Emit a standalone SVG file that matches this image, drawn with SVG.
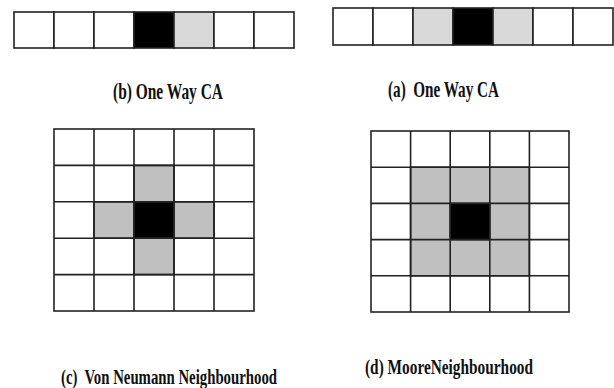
<svg xmlns="http://www.w3.org/2000/svg" width="614" height="388" viewBox="0 0 614 388">
<style>
.c{fill:#fff;stroke:#222;stroke-width:1.6}
.k{fill:#000;stroke:#222;stroke-width:1.6}
.g1{fill:#d9d9d9;stroke:#222;stroke-width:1.6}
.g2{fill:#c0c0c0;stroke:#222;stroke-width:1.6}
.t{font-family:"Liberation Serif",serif;font-weight:bold;fill:#111;white-space:pre}
</style>
<rect width="614" height="388" fill="#fff"/>
<g id="strip-b">
<rect class="c" x="14" y="12" width="40" height="36"/>
<rect class="c" x="54" y="12" width="40" height="36"/>
<rect class="c" x="94" y="12" width="40" height="36"/>
<rect class="k" x="134" y="12" width="40" height="36"/>
<rect class="g1" x="174" y="12" width="40" height="36"/>
<rect class="c" x="214" y="12" width="40" height="36"/>
<rect class="c" x="254" y="12" width="40" height="36"/>
</g>
<g id="strip-a">
<rect class="c" x="333" y="8" width="40" height="37"/>
<rect class="c" x="373" y="8" width="40" height="37"/>
<rect class="g1" x="413" y="8" width="40" height="37"/>
<rect class="k" x="453" y="8" width="40" height="37"/>
<rect class="g1" x="493" y="8" width="40" height="37"/>
<rect class="c" x="533" y="8" width="40" height="37"/>
<rect class="c" x="573" y="8" width="40" height="37"/>
</g>
<g id="grid-c">
<rect class="c" x="54" y="129" width="200" height="182"/>
<rect class="g2" x="134" y="165.4" width="40" height="36.4"/>
<rect class="g2" x="94" y="201.8" width="40" height="36.4"/>
<rect class="k" x="134" y="201.8" width="40" height="36.4"/>
<rect class="g2" x="174" y="201.8" width="40" height="36.4"/>
<rect class="g2" x="134" y="238.2" width="40" height="36.4"/>
<path d="M94 129V311M134 129V311M174 129V311M214 129V311M54 165.4H254M54 201.8H254M54 238.2H254M54 274.6H254" stroke="#222" stroke-width="1.6" fill="none"/>
</g>
<g id="grid-d">
<rect class="c" x="371" y="131" width="198" height="181"/>
<rect class="g2" x="410.6" y="167.2" width="118.8" height="108.6"/>
<rect class="k" x="450.2" y="203.4" width="39.6" height="36.2"/>
<path d="M410.6 131V312M450.2 131V312M489.8 131V312M529.4 131V312M371 167.2H569M371 203.4H569M371 239.6H569M371 275.8H569" stroke="#222" stroke-width="1.6" fill="none"/>
</g>
<g id="labels">
<text class="t" x="113" y="99" font-size="23" textLength="110" lengthAdjust="spacingAndGlyphs">(b) One Way CA</text>
<text class="t" x="388" y="97" font-size="23" textLength="111" lengthAdjust="spacingAndGlyphs" xml:space="preserve">(a)  One Way CA</text>
<text class="t" x="61" y="384" font-size="22" textLength="216" lengthAdjust="spacingAndGlyphs" xml:space="preserve">(c)  Von Neumann Neighbourhood</text>
<text class="t" x="365" y="374" font-size="22" textLength="168" lengthAdjust="spacingAndGlyphs">(d) MooreNeighbourhood</text>
</g>
</svg>
